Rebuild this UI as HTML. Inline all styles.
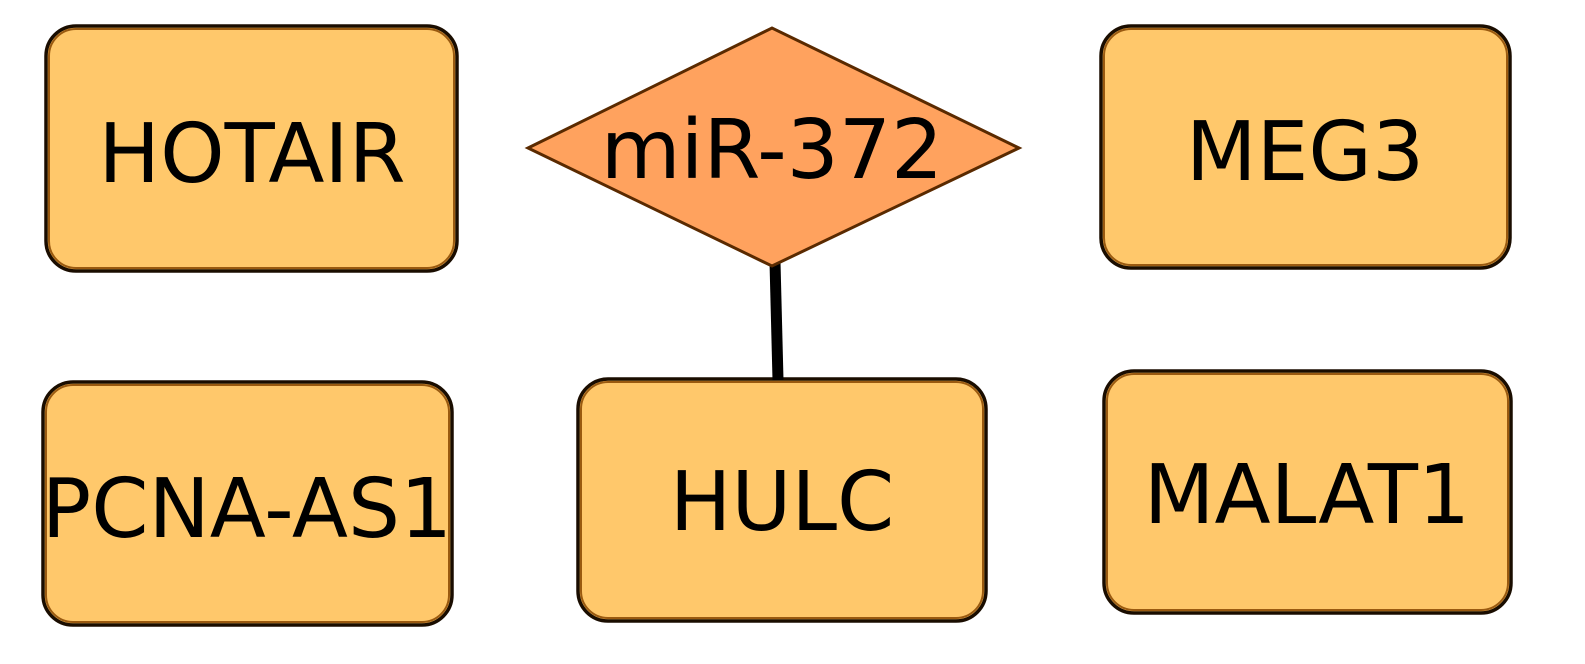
<!DOCTYPE html>
<html><head><style>html,body{margin:0;padding:0;background:#fff;}svg{display:block}</style></head>
<body>
<svg width="1585" height="664" viewBox="0 0 1585 664" xmlns="http://www.w3.org/2000/svg" font-family="'DejaVu Sans','Liberation Sans',sans-serif" font-size="82">
<g fill="#FFC86B" stroke="#1a0d00" stroke-width="3.5">
<rect x="46" y="26" width="411" height="245" rx="30"/>
<rect x="1101" y="26" width="409" height="242" rx="30"/>
<rect x="43" y="382" width="409" height="243" rx="30"/>
<rect x="578" y="379" width="408" height="242" rx="30"/>
<rect x="1104" y="371" width="407" height="242" rx="30"/>
</g>
<g fill="none" stroke="#9a5a10" stroke-width="2">
<rect x="49" y="29" width="405" height="239" rx="27"/>
<rect x="1104" y="29" width="403" height="236" rx="27"/>
<rect x="46" y="385" width="403" height="237" rx="27"/>
<rect x="581" y="382" width="402" height="236" rx="27"/>
<rect x="1107" y="374" width="401" height="236" rx="27"/>
</g>
<line x1="775" y1="262" x2="778" y2="380" stroke="#000" stroke-width="11"/>
<polygon points="528,148 772,28 1019,148 772,266" fill="#FFA25E" stroke="#5a2a00" stroke-width="3"/>
<g fill="#000" text-anchor="middle">
<text x="252" y="182">HOTAIR</text>
<text x="1305" y="180">MEG3</text>
<text x="247" y="537">PCNA-AS1</text>
<text x="782" y="530">HULC</text>
<text x="1307" y="523">MALAT1</text>
<text x="772" y="178">miR-372</text>
</g>
</svg>
</body></html>
